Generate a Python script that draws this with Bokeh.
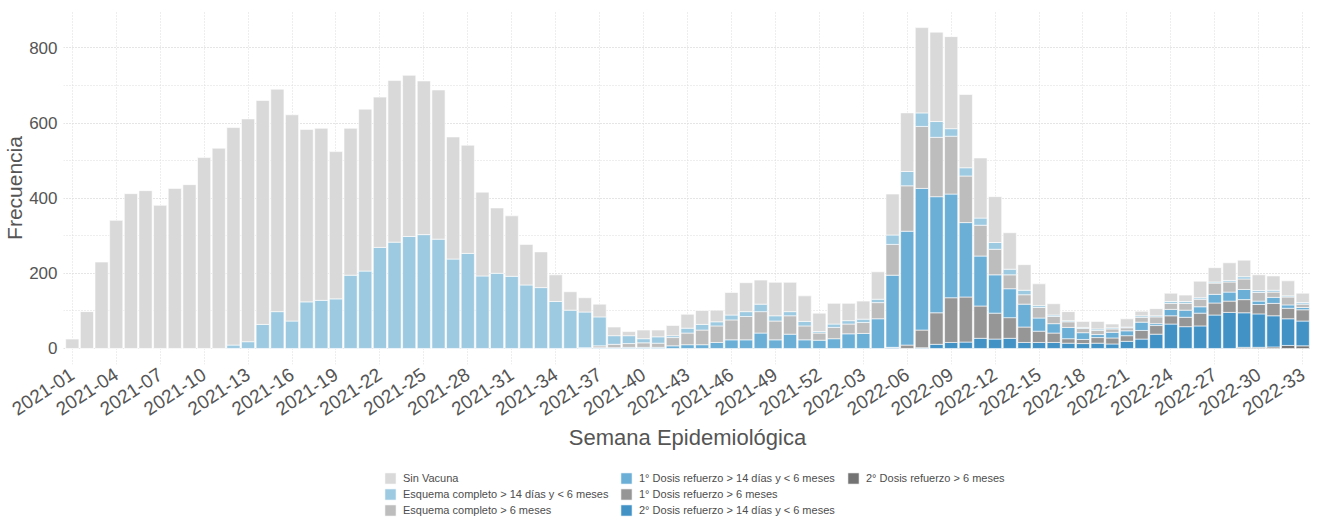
from bokeh.plotting import figure
from bokeh.layouts import column
from bokeh.models import (Range1d, FixedTicker, SingleIntervalTicker, Legend,
                          LegendItem, ColumnDataSource)
from bokeh.embed import file_html
from bokeh.resources import INLINE

# ---------------- data ----------------
weeks = [f"2021-{i:02d}" for i in range(1, 53)] + [f"2022-{i:02d}" for i in range(1, 34)]

sin_vacuna = [25, 98, 230, 341, 412, 420, 381, 426, 436, 508, 533,
              579, 593, 596, 592, 549, 459, 458, 392, 391, 431, 400, 430, 429, 409,
              397, 325, 288, 223, 174, 161, 108, 95, 71, 49,
              38, 34, 23, 11, 23, 18, 27, 37, 37, 31, 60, 77, 64, 89, 78, 68, 49, 55, 46, 48, 73,
              109, 156, 227, 238, 245, 195, 160, 122, 97, 68, 58, 30, 24, 16, 20, 10, 22, 12, 19,
              22, 17, 44, 38, 47, 44, 42, 38, 40, 25]

ec_14d_6m = [0] * 11 + [9, 18, 64, 98, 73, 124, 128, 132, 195, 206, 269, 283, 298, 303,
                        291, 238, 253, 193, 200, 192, 169, 162, 125, 102,
                        95, 77, 23, 21, 11, 17, 5, 13, 15, 11, 13, 13, 20, 14, 11, 12, 4, 9, 9, 9, 9,
                        25, 38, 36, 42, 20, 22, 19, 18, 15, 12, 5, 4, 3, 3, 4, 3, 2, 4, 3, 5, 5, 4,
                        3, 4, 6, 5, 5, 3, 4]

ec_6m = [0] * 35 + [1, 5, 9, 10, 12, 11, 22, 31, 39, 44, 53, 62, 57, 50, 49, 37, 19, 30, 26, 29, 43,
                    82, 121, 165, 158, 154, 124, 82, 68, 37, 25, 28, 19, 15, 11, 11, 9, 8, 13, 18,
                    16, 18, 20, 30, 27, 28, 23, 14, 21, 9]

r1_14d_6m = [0] * 35 + [1, 2, 2, 3, 3, 3, 7, 10, 10, 16, 23, 23, 41, 23, 38, 23, 22, 26, 39, 40, 79,
                        192, 303, 377, 309, 276, 198, 133, 102, 77, 61, 35, 25, 30, 18, 8, 15, 13,
                        22, 5, 17, 19, 17, 23, 24, 27, 9, 16, 9, 6]

r1_6m = [0] * 57 + [9, 47, 84, 119, 120, 86, 69, 55, 41, 30, 25, 12, 11, 15, 16, 15, 23, 23, 22, 25,
                    34, 32, 30, 35, 25, 33, 28, 30]

r2_14d_6m = [0] * 56 + [3, 0, 2, 11, 16, 17, 27, 25, 27, 16, 16, 16, 14, 13, 14, 12, 19, 25, 38, 65,
                        58, 60, 89, 96, 92, 89, 83, 71, 66]

r2_6m = [0] * 80 + [3, 3, 4, 8, 7]

series_names = ["r2_6m", "r2_14d_6m", "r1_6m", "r1_14d_6m", "ec_6m", "ec_14d_6m", "sin_vacuna"]
series_labels = ["2° Dosis refuerzo > 6 meses",
                 "2° Dosis refuerzo > 14 días y < 6 meses",
                 "1° Dosis refuerzo > 6 meses",
                 "1° Dosis refuerzo > 14 días y < 6 meses",
                 "Esquema completo > 6 meses",
                 "Esquema completo > 14 días y < 6 meses",
                 "Sin Vacuna"]
series_colors = ["#737373", "#4292C6", "#969696", "#6BAED6", "#BDBDBD", "#9ECAE1", "#D9D9D9"]

# ---------------- main plot ----------------
x = list(range(1, len(weeks) + 1))
source = ColumnDataSource(dict(x=x, week=weeks, r2_6m=r2_6m, r2_14d_6m=r2_14d_6m, r1_6m=r1_6m,
                               r1_14d_6m=r1_14d_6m, ec_6m=ec_6m, ec_14d_6m=ec_14d_6m,
                               sin_vacuna=sin_vacuna))

FONT = "Liberation Sans"
TXT = "#555555"

p = figure(width=1312, height=460, output_backend="svg", toolbar_location=None,
           x_range=Range1d(0.4, len(weeks) + 0.6), y_range=Range1d(-42.7, 896.9),
           min_border_left=55, min_border_right=1, min_border_top=11, min_border_bottom=96)
p.outline_line_color = None
p.background_fill_color = "white"
p.border_fill_color = "white"

renderers = p.vbar_stack(series_names, x="x", width=0.9, source=source,
                         fill_color=series_colors, line_color="white", line_width=0.6)

# axes
tick_pos = x[::3]
p.xaxis.ticker = FixedTicker(ticks=tick_pos)
p.xaxis.major_label_overrides = {i: weeks[i - 1] for i in tick_pos}
p.xaxis.major_label_orientation = 0.58
p.yaxis.ticker = SingleIntervalTicker(interval=200, num_minor_ticks=2)

for ax in (p.xaxis[0], p.yaxis[0]):
    ax.axis_line_color = None
    ax.major_tick_line_color = None
    ax.minor_tick_line_color = None
    ax.major_label_text_font = FONT
    ax.major_label_text_color = TXT
    ax.axis_label_text_font = FONT
    ax.axis_label_text_color = TXT
    ax.axis_label_text_font_style = "normal"

p.yaxis.major_label_text_font_size = "17px"
p.xaxis.major_label_text_font_size = "19px"
p.xaxis.axis_label_text_font_size = "22px"
p.yaxis.axis_label_text_font_size = "21px"

p.xaxis.axis_label = "Semana Epidemiológica"
p.yaxis.axis_label = "Frecuencia"
p.xaxis.major_label_standoff = 2
p.yaxis.major_label_standoff = 0
p.xaxis.axis_label_standoff = 0
p.yaxis.axis_label_standoff = 0

# grid
for g in (p.xgrid[0], p.ygrid[0]):
    g.grid_line_color = "#DDDDDD"
    g.grid_line_dash = "1 2"
    g.grid_line_width = 1
p.ygrid.minor_grid_line_color = "#DDDDDD"
p.ygrid.minor_grid_line_dash = "1 2"

# ---------------- legend strip ----------------
lg = figure(width=1312, height=57, output_backend="svg", toolbar_location=None,
            x_range=Range1d(0, 1), y_range=Range1d(0, 1),
            x_axis_type=None, y_axis_type=None,
            min_border_left=0, min_border_right=0, min_border_top=0, min_border_bottom=0)
lg.outline_line_color = None
lg.background_fill_color = "white"
lg.border_fill_color = "white"

# legend keys: zero-height bars (nothing visible) so that the legend can draw its swatches
swatches = [lg.vbar(x=[0.5], top=[0], bottom=[0], width=0.01, fill_color=c,
                    line_color="white", line_width=0.6) for c in series_colors]

legend_style = dict(orientation="vertical", label_text_font=FONT, label_text_font_size="11px",
                    label_text_color="#4D4D4D", glyph_width=14, glyph_height=14,
                    label_height=14, label_standoff=6, spacing=2, padding=0, margin=0,
                    border_line_color=None, background_fill_alpha=0)

legend_columns = [([6, 5, 4], (320, 0)), ([3, 2, 1], (556, 0)), ([0], (783, 32))]
for idx, loc in legend_columns:
    items = [LegendItem(label=series_labels[i], renderers=[swatches[i]]) for i in idx]
    lg.add_layout(Legend(items=items, location=loc, **legend_style), "center")

layout = column(p, lg, spacing=0)
open("out.html", "w").write(file_html(layout, INLINE))
